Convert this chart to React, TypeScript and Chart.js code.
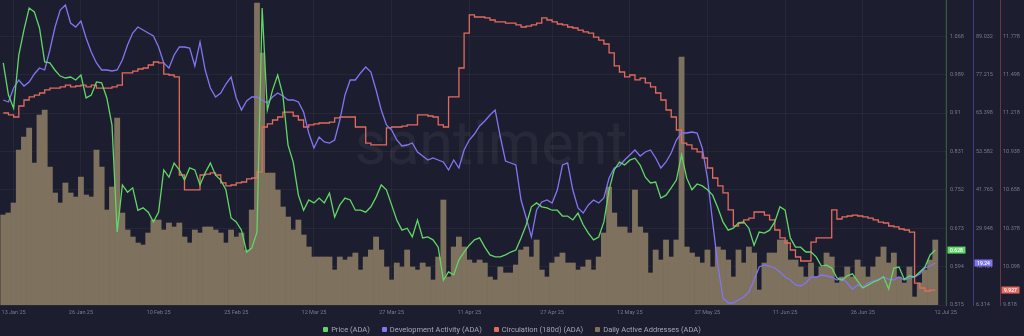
import React, { useEffect, useRef } from 'react';
import { Chart, registerables } from 'chart.js';

Chart.register(...registerables);

// ---------- data ----------
const START_DATE = '11 Jan 25';
const xTickLabels = ['13 Jan 25', '26 Jan 25', '10 Feb 25', '25 Feb 25', '12 Mar 25', '27 Mar 25', '11 Apr 25', '27 Apr 25', '12 May 25', '27 May 25', '11 Jun 25', '26 Jun 25', '12 Jul 25'];

const seriesLabels = ['Price (ADA)', 'Development Activity (ADA)', 'Circulation (180d) (ADA)', 'Daily Active Addresses (ADA)'];

const priceTicks = [0.515, 0.594, 0.673, 0.752, 0.831, 0.91, 0.989, 1.068];
const devTicks = [6.314, 18.131, 29.948, 41.765, 53.582, 65.398, 77.215, 89.032];
const circTicks = [9.818, 10.098, 10.378, 10.658, 10.938, 11.218, 11.498, 11.778];

const price = [
  1.013, 0.947, 0.920, 1.029, 1.081, 1.126, 1.118, 1.085, 1.015, 1.013,
  0.998, 0.986, 0.982, 0.984, 0.978, 0.988, 0.941, 0.947, 0.974, 0.972,
  0.941, 0.885, 0.665, 0.762, 0.747, 0.756, 0.710, 0.715, 0.706, 0.686,
  0.706, 0.793, 0.778, 0.807, 0.793, 0.772, 0.797, 0.793, 0.762, 0.787,
  0.807, 0.782, 0.772, 0.752, 0.694, 0.686, 0.669, 0.624, 0.632, 0.665,
  1.126, 0.916, 0.957, 0.988, 0.947, 0.844, 0.809, 0.741, 0.710, 0.731,
  0.725, 0.735, 0.725, 0.745, 0.696, 0.721, 0.735, 0.731, 0.710, 0.710,
  0.706, 0.717, 0.737, 0.762, 0.752, 0.721, 0.690, 0.669, 0.673, 0.655,
  0.690, 0.653, 0.655, 0.649, 0.634, 0.566, 0.583, 0.577, 0.608, 0.624,
  0.638, 0.649, 0.653, 0.634, 0.618, 0.614, 0.614, 0.618, 0.624, 0.628,
  0.653, 0.680, 0.717, 0.725, 0.717, 0.715, 0.710, 0.710, 0.698, 0.698,
  0.690, 0.704, 0.680, 0.663, 0.649, 0.655, 0.686, 0.752, 0.793, 0.809,
  0.803, 0.813, 0.817, 0.803, 0.778, 0.766, 0.768, 0.735, 0.741, 0.756,
  0.772, 0.824, 0.776, 0.752, 0.764, 0.760, 0.752, 0.741, 0.715, 0.686,
  0.669, 0.673, 0.684, 0.686, 0.673, 0.638, 0.665, 0.663, 0.669, 0.686,
  0.717, 0.710, 0.653, 0.634, 0.634, 0.624, 0.624, 0.614, 0.595, 0.597,
  0.591, 0.571, 0.566, 0.575, 0.579, 0.564, 0.550, 0.556, 0.562, 0.566,
  0.573, 0.548, 0.591, 0.593, 0.568, 0.575, 0.573, 0.583, 0.593, 0.618,
  0.628,
];

const devActivity = [
  69.40, 68.78, 73.09, 75.55, 73.71, 74.94, 77.40, 79.24, 78.63, 84.78,
  91.86, 97.09, 98.63, 93.09, 91.86, 93.71, 88.48, 84.17, 80.78, 78.63,
  78.63, 78.32, 78.63, 81.71, 86.32, 90.01, 91.86, 90.94, 90.01, 89.09,
  85.71, 80.78, 79.24, 83.24, 85.71, 85.71, 85.40, 79.86, 87.25, 78.63,
  73.09, 70.32, 71.55, 74.32, 76.47, 70.01, 66.32, 69.09, 70.32, 70.32,
  69.40, 68.47, 70.32, 71.55, 70.63, 69.40, 69.40, 68.78, 65.70, 59.24,
  54.63, 58.01, 56.47, 56.16, 57.09, 63.24, 70.94, 75.55, 75.55, 77.71,
  79.55, 78.01, 72.47, 66.32, 61.70, 60.17, 57.09, 55.24, 55.55, 56.16,
  53.40, 52.16, 50.93, 51.55, 50.93, 50.32, 47.86, 50.93, 48.47, 54.01,
  57.09, 58.93, 61.40, 62.93, 64.78, 66.32, 58.01, 50.63, 50.01, 49.39,
  38.62, 33.08, 27.24, 35.55, 38.01, 38.62, 37.70, 41.70, 49.39, 50.01,
  41.70, 36.16, 34.62, 37.09, 38.62, 37.70, 39.24, 45.39, 48.47, 49.09,
  50.93, 52.47, 54.01, 52.16, 53.40, 54.01, 51.55, 48.47, 50.32, 53.09,
  57.09, 59.24, 59.24, 59.55, 59.24, 54.63, 45.39, 31.85, 18.62, 8.47,
  6.93, 6.93, 7.85, 8.77, 10.31, 14.01, 18.01, 18.62, 18.31, 17.70,
  16.47, 14.93, 14.01, 12.47, 12.16, 13.08, 14.93, 14.93, 15.54, 15.24,
  14.93, 14.01, 14.62, 13.08, 11.24, 12.47, 11.85, 13.08, 13.70, 14.31,
  14.93, 14.31, 14.01, 14.93, 14.01, 14.62, 14.93, 15.85, 17.70, 18.31,
  19.24,
];

const circulation = [
  11.218, 11.204, 11.189, 11.269, 11.313, 11.335, 11.349, 11.364, 11.386, 11.400,
  11.400, 11.408, 11.422, 11.408, 11.415, 11.422, 11.408, 11.422, 11.400, 11.400,
  11.400, 11.408, 11.422, 11.510, 11.510, 11.524, 11.539, 11.546, 11.568, 11.590,
  11.583, 11.502, 11.495, 11.481, 10.766, 10.657, 10.657, 10.657, 10.766, 10.773,
  10.781, 10.766, 10.708, 10.686, 10.693, 10.708, 10.715, 10.737, 10.744, 10.788,
  11.116, 11.138, 11.167, 11.189, 11.225, 11.225, 11.196, 11.167, 11.116, 11.131,
  11.138, 11.145, 11.145, 11.152, 11.182, 11.189, 11.189, 11.189, 11.116, 11.116,
  10.999, 10.985, 10.985, 10.985, 11.109, 11.116, 11.116, 11.123, 11.131, 11.131,
  11.204, 11.204, 11.196, 11.189, 11.131, 11.116, 11.335, 11.335, 11.546, 11.801,
  11.933, 11.918, 11.918, 11.911, 11.896, 11.882, 11.882, 11.874, 11.874, 11.860,
  11.845, 11.852, 11.860, 11.874, 11.911, 11.896, 11.882, 11.867, 11.860, 11.845,
  11.838, 11.823, 11.809, 11.801, 11.772, 11.750, 11.721, 11.656, 11.561, 11.517,
  11.481, 11.495, 11.459, 11.473, 11.437, 11.408, 11.364, 11.313, 11.240, 11.189,
  11.094, 10.999, 10.985, 10.956, 10.934, 10.890, 10.817, 10.744, 10.686, 10.635,
  10.511, 10.394, 10.416, 10.438, 10.452, 10.496, 10.496, 10.474, 10.438, 10.365,
  10.307, 10.270, 10.219, 10.168, 10.139, 10.139, 10.277, 10.307, 10.307, 10.307,
  10.511, 10.445, 10.460, 10.467, 10.474, 10.467, 10.460, 10.452, 10.438, 10.423,
  10.416, 10.394, 10.387, 10.372, 10.365, 10.350, 9.978, 9.942, 9.920, 9.927,
  9.927,
];

const activeAddresses = [
  18000, 18400, 20400, 31000, 33600, 35400, 28400, 38000, 39000, 27600,
  22400, 20400, 24400, 22400, 21600, 25600, 22000, 21600, 31000, 27600,
  19000, 23600, 37400, 18400, 15000, 13600, 12400, 12000, 14400, 17000,
  17000, 15000, 16400, 15600, 16400, 13600, 12400, 15000, 14400, 15600,
  15600, 15000, 14400, 12400, 15000, 13600, 14400, 11000, 19000, 60400,
  50400, 26400, 26400, 23000, 19600, 17600, 15000, 17000, 14000, 11600,
  9600, 9600, 9600, 9600, 7000, 9600, 9000, 9600, 10400, 7000,
  9600, 11000, 13600, 11000, 7600, 5000, 8400, 7600, 11000, 7600,
  7000, 8400, 7600, 5000, 9600, 21000, 5600, 11600, 13600, 11600,
  9000, 8400, 9000, 8400, 5600, 5000, 7600, 6400, 6400, 8000,
  11000, 11600, 9600, 13000, 7000, 5600, 8400, 9600, 10400, 8400,
  8400, 7000, 7600, 9000, 7000, 9600, 14400, 23600, 18400, 15600,
  15600, 14400, 23000, 15600, 14400, 6400, 11000, 9000, 13000, 9600,
  13000, 49600, 11600, 10400, 9600, 8400, 11000, 7600, 11600, 11000,
  9000, 5600, 11000, 8400, 11600, 10400, 3000, 8400, 10400, 10400,
  13000, 13000, 9000, 9000, 7600, 5600, 8400, 5600, 7600, 10400,
  9600, 4400, 5600, 7600, 5600, 9000, 7600, 5600, 7600, 9600,
  11600, 8400, 10400, 5600, 4400, 7600, 1600, 4400, 7000, 9000,
  13000,
];

// ---------- styling ----------
const BG = '#1c1e2f';
const GREEN = '#62d667';
const PURPLE = '#8076f2';
const RED = '#e36a5e';
const TAN = '#7e715e';
const AXIS_TEXT = '#767a8c';
const GRID = 'rgba(255,255,255,0.045)';
const FONT = 'Roboto, "Noto Sans", sans-serif';

const MONTHS = ['Jan', 'Feb', 'Mar', 'Apr', 'May', 'Jun', 'Jul', 'Aug', 'Sep', 'Oct', 'Nov', 'Dec'];
function parseDate(label: string) {
  const [d, m, y] = label.split(' ');
  return Date.UTC(2000 + Number(y), MONTHS.indexOf(m), Number(d));
}
const startMs = parseDate(START_DATE);
const dayOf = (label: string) => Math.round((parseDate(label) - startMs) / 86400000);
const xTickDays = xTickLabels.map(dayOf);
const tickLabelByDay = new Map(xTickDays.map((d, i) => [d, xTickLabels[i]]));
const days = activeAddresses.map((_, i) => i);
const toPoints = (arr: number[]) => arr.map((v, i) => ({ x: days[i], y: v }));

const legendColors = [GREEN, PURPLE, RED, TAN];

const bgPlugin = {
  id: 'bg',
  beforeDraw(chart: any) {
    const { ctx, width, height } = chart;
    ctx.save();
    ctx.fillStyle = BG;
    ctx.fillRect(0, 0, width, height);
    ctx.restore();
  },
};

const watermarkPlugin = {
  id: 'watermark',
  beforeDatasetsDraw(chart: any) {
    const { ctx, chartArea } = chart;
    ctx.save();
    ctx.font = `400 61px ${FONT}`;
    ctx.fillStyle = 'rgba(255,255,255,0.05)';
    ctx.textAlign = 'center';
    ctx.textBaseline = 'alphabetic';
    ctx.fillText('santiment', chartArea.left + chartArea.width * 0.519, 164);
    ctx.restore();
  },
};

const badgePlugin = {
  id: 'badges',
  afterDraw(chart: any) {
    const { ctx } = chart;
    const specs = [
      { idx: 0, axis: 'yPrice', digits: 3 },
      { idx: 1, axis: 'yDev', digits: 2 },
      { idx: 2, axis: 'yCirc', digits: 3 },
    ];
    specs.forEach((s) => {
      const ds = chart.data.datasets[s.idx];
      const scale = chart.scales[s.axis];
      const last = ds.data[ds.data.length - 1];
      const y = scale.getPixelForValue(last.y);
      ctx.save();
      ctx.fillStyle = ds.borderColor;
      ctx.fillRect(scale.left + 1.5, y - 3.5, 18, 7);
      ctx.fillStyle = '#ffffff';
      ctx.font = `500 5px ${FONT}`;
      ctx.textAlign = 'center';
      ctx.textBaseline = 'middle';
      ctx.fillText(Number(last.y).toFixed(s.digits), scale.left + 10.5, y + 0.3);
      ctx.restore();
    });
  },
};

function rightAxis(min: number, max: number, ticks: number[], border: string, width: number, pad: number, grid: boolean) {
  return {
    type: 'linear',
    position: 'right',
    min,
    max,
    bounds: 'data',
    afterBuildTicks: (s: any) => {
      s.ticks = ticks.map((v) => ({ value: v }));
    },
    afterFit: (s: any) => {
      s.width = width;
      s.paddingTop = 0;
      s.paddingBottom = 0;
    },
    ticks: {
      color: AXIS_TEXT,
      font: { family: FONT, size: 5.5 },
      padding: pad,
      callback: (v: number) => String(v),
    },
    grid: { drawOnChartArea: grid, drawTicks: false, color: GRID },
    border: { display: true, color: border, width: 1 },
  };
}

export default function App() {
  const ref = useRef<HTMLCanvasElement>(null);

  useEffect(() => {
    document.body.style.margin = '0';
    document.body.style.background = BG;
    const chart = new Chart(ref.current as HTMLCanvasElement, {
      type: 'line',
      data: {
        datasets: [
          {
            type: 'line',
            label: seriesLabels[0],
            data: toPoints(price),
            yAxisID: 'yPrice',
            borderColor: GREEN,
            backgroundColor: GREEN,
            borderWidth: 1.3,
            pointRadius: 0,
            tension: 0,
            order: 1,
          },
          {
            type: 'line',
            label: seriesLabels[1],
            data: toPoints(devActivity),
            yAxisID: 'yDev',
            borderColor: PURPLE,
            backgroundColor: PURPLE,
            borderWidth: 1.3,
            pointRadius: 0,
            tension: 0,
            order: 2,
          },
          {
            type: 'line',
            label: seriesLabels[2],
            data: toPoints(circulation),
            yAxisID: 'yCirc',
            borderColor: RED,
            backgroundColor: RED,
            borderWidth: 1.3,
            pointRadius: 0,
            stepped: 'before',
            order: 3,
          },
          {
            type: 'bar',
            label: seriesLabels[3],
            data: toPoints(activeAddresses),
            yAxisID: 'yDaa',
            backgroundColor: TAN,
            borderWidth: 0,
            barPercentage: 1,
            categoryPercentage: 1,
            order: 4,
          },
        ],
      } as any,
      options: {
        responsive: false,
        animation: false,
        events: [],
        layout: { padding: { left: 0, right: 0, top: 0, bottom: 19 } },
        plugins: { legend: { display: false }, tooltip: { enabled: false } },
        scales: {
          x: {
            type: 'linear',
            min: -0.63,
            max: 182.07,
            offset: false,
            bounds: 'data',
            afterBuildTicks: (s: any) => {
              s.ticks = xTickDays.map((v) => ({ value: v }));
            },
            afterFit: (s: any) => {
              s.height = 12;
              s.paddingLeft = 0;
              s.paddingRight = 0;
            },
            ticks: {
              color: AXIS_TEXT,
              font: { family: FONT, size: 5.5 },
              padding: 4,
              autoSkip: false,
              maxRotation: 0,
              callback: (v: number) => tickLabelByDay.get(v) ?? '',
            },
            grid: { color: GRID, drawTicks: false, offset: false },
            border: { display: false },
          },
          yDaa: { type: 'linear', display: false, min: 0, max: 61000 },
          yPrice: rightAxis(0.515, 1.1425, priceTicks, '#2f5e3c', 27, 4, true),
          yDev: rightAxis(6.314, 100.17, devTicks, '#3f3c85', 27, 3, false),
          yCirc: rightAxis(9.818, 12.042, circTicks, '#6c3540', 24, 3, false),
        } as any,
      },
      plugins: [bgPlugin, watermarkPlugin, badgePlugin],
    });
    return () => chart.destroy();
  }, []);

  return (
    <div style={{ position: 'relative', width: 1024, height: 336, background: BG, overflow: 'hidden' }}>
      <canvas ref={ref} width={1024} height={336} style={{ display: 'block', width: 1024, height: 336 }} />
      <div
        style={{
          position: 'absolute',
          left: 0,
          top: 322,
          width: 1024,
          height: 14,
          display: 'flex',
          justifyContent: 'center',
          alignItems: 'center',
          gap: 12,
          fontFamily: FONT,
          fontSize: 7.5,
          color: '#a4a7b7',
          whiteSpace: 'nowrap',
        }}
      >
        {seriesLabels.map((label, i) => (
          <div key={label} style={{ display: 'flex', alignItems: 'center' }}>
            <span style={{ width: 5, height: 5, background: legendColors[i], borderRadius: 1, marginRight: 3, display: 'inline-block' }} />
            <span>{label}</span>
          </div>
        ))}
      </div>
    </div>
  );
}
